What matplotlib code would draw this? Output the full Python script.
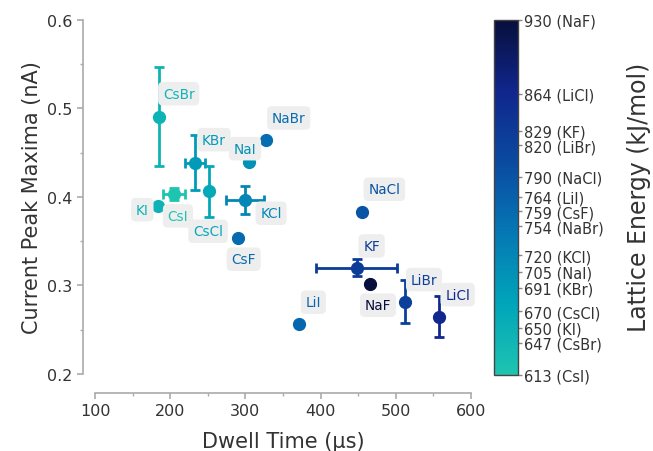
import numpy as np
import matplotlib
matplotlib.use('Agg')
import matplotlib.pyplot as plt
from matplotlib.colors import LinearSegmentedColormap, Normalize
from matplotlib.cm import ScalarMappable
from matplotlib.ticker import MultipleLocator

# salts and measured values
salts = ['CsBr', 'KBr', 'CsCl', 'CsI', 'KI', 'NaI', 'NaBr', 'KCl',
         'CsF', 'NaCl', 'KF', 'NaF', 'LiI', 'LiBr', 'LiCl']
dwell = [184.7, 233.0, 251.6, 205.0, 184.2, 304.8, 327.0, 299.5,
         289.7, 455.5, 447.9, 465.7, 371.7, 512.2, 557.0]
dwell_err = [0, 13.3, 0, 15.0, 0, 0, 0, 25.7,
             0, 0, 53.4, 0, 0, 0, 0]
peak = [0.4905, 0.4386, 0.4063, 0.4033, 0.390, 0.4397, 0.4642, 0.3962,
        0.3533, 0.3826, 0.3198, 0.3014, 0.2562, 0.2817, 0.2648]
peak_err = [0.056, 0.031, 0.0286, 0.007, 0, 0, 0, 0.0155,
            0, 0, 0.0096, 0, 0, 0.0245, 0.023]
lattice = [647, 691, 670, 613, 650, 705, 754, 720,
           759, 790, 829, 930, 764, 820, 864]

# label offsets in pixels (dx, dy)
offsets = [(20, 23), (19, 23), (-1, -40), (4, -22), (-16, -4), (-4, 13), (23, 22), (26, -13),
           (6, -21), (22, 23), (15, 22), (8, -21), (14, 22), (19, 22), (19, 22)]

cmap = LinearSegmentedColormap.from_list(
    'lattice', ['#1ec4b0', '#00a5ba', '#0578b4', '#0a4aa0', '#10268c', '#080f3c'])
norm = Normalize(vmin=613, vmax=930)

W, H = 653, 452
fig = plt.figure(figsize=(W / 100, H / 100), dpi=100)
ax = fig.add_axes([95 / W, 1 - 375 / H, (471 - 95) / W, (375 - 20.7) / H])

for s, x, xe, y, ye, e, off in zip(salts, dwell, dwell_err, peak, peak_err, lattice, offsets):
    c = cmap(norm(e))
    ax.errorbar(x, y, xerr=xe if xe else None, yerr=ye if ye else None,
                fmt='o', color=c, ecolor=c, markersize=8.5, elinewidth=2,
                capsize=3.3, capthick=2)
    ax.annotate(s, (x, y), xytext=off, textcoords='offset pixels',
                ha='center', va='center', fontsize=9.8, color=c,
                bbox=dict(boxstyle='round,pad=0.35', fc='#eeeeee', ec='none'))

ax.set_xlim(100, 600)
ax.set_ylim(0.2, 0.6)
ax.xaxis.set_major_locator(MultipleLocator(100))
ax.xaxis.set_minor_locator(MultipleLocator(50))
ax.yaxis.set_major_locator(MultipleLocator(0.1))
ax.yaxis.set_minor_locator(MultipleLocator(0.05))

for side in ['top', 'right']:
    ax.spines[side].set_visible(False)
ax.spines['left'].set_position(('outward', 8.6))
ax.spines['bottom'].set_position(('outward', 13.7))
ax.spines['left'].set_bounds(0.2, 0.6)
ax.spines['bottom'].set_bounds(100, 600)
for side in ['left', 'bottom']:
    ax.spines[side].set_color('#aaaaaa')
    ax.spines[side].set_linewidth(1.2)
ax.tick_params(which='major', length=4, width=1.2, color='#aaaaaa',
               labelsize=11.5, labelcolor='#333333')
ax.tick_params(which='minor', length=2, width=1, color='#aaaaaa')

ax.set_xlabel('Dwell Time (µs)', fontsize=15, color='#333333', labelpad=9)
ax.set_ylabel('Current Peak Maxima (nA)', fontsize=15, color='#333333')

# colorbar
cax = fig.add_axes([494 / W, 1 - 376 / H, 24 / W, 355 / H])
cb = fig.colorbar(ScalarMappable(norm=norm, cmap=cmap), cax=cax)
order = np.argsort(lattice)
vals = [lattice[i] for i in order]

# spread crowded tick labels apart (ends stay put)
pos = np.array(vals, dtype=float)
gap = 13.0
n = len(pos)
for _ in range(300):
    for k in range(n - 1):
        d = pos[k + 1] - pos[k]
        if d < gap:
            if k == 0:
                pos[k + 1] += gap - d
            elif k + 1 == n - 1:
                pos[k] -= gap - d
            else:
                pos[k] -= (gap - d) / 2
                pos[k + 1] += (gap - d) / 2
cb.set_ticks(list(pos))
cb.set_ticklabels(['%d (%s)' % (lattice[i], salts[i]) for i in order])
cb.outline.set_edgecolor('#444444')
cb.outline.set_linewidth(1)
cax.tick_params(length=3, width=1, pad=1.5, color='#888888', labelsize=10.5,
                labelcolor='#333333')
cax.minorticks_off()
fig.text(639 / W, 1 - 197 / H, 'Lattice Energy (kJ/mol)', rotation=90,
         ha='center', va='center', fontsize=17, color='#333333')

fig.savefig('out.png', dpi=100)
